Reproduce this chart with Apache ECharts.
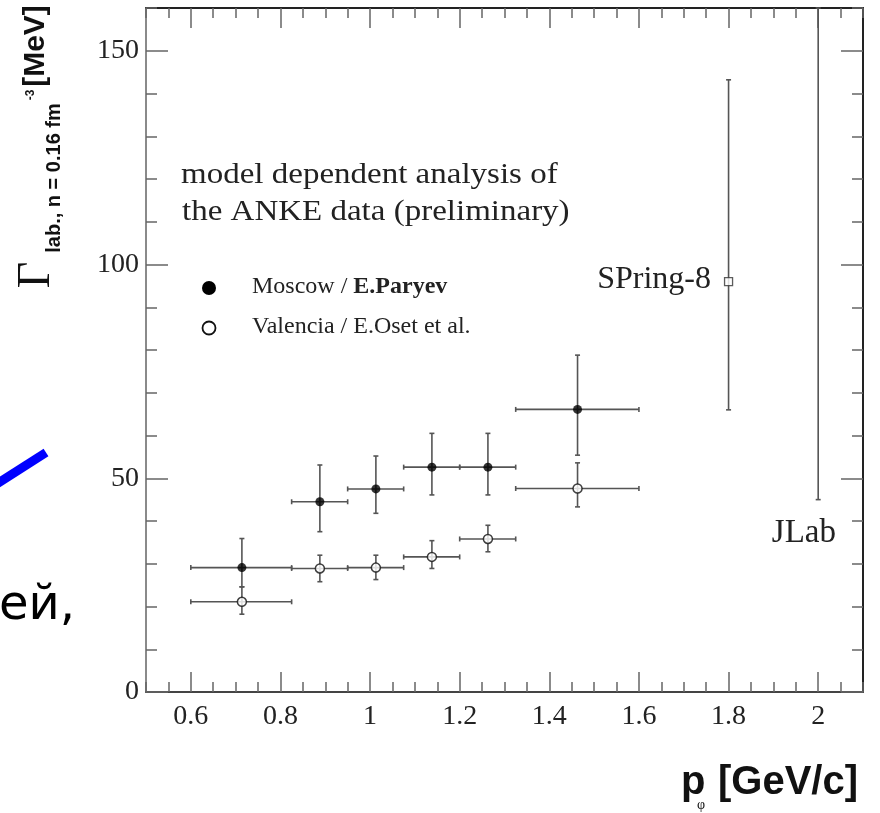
<!DOCTYPE html>
<html><head><meta charset="utf-8">
<script src="https://cdn.jsdelivr.net/npm/echarts@6/dist/echarts.min.js"></script>
<style>html,body{margin:0;padding:0;background:#fff}#c{width:880px;height:813px}</style>
</head><body><div id="c"></div>
<script>
// ---- data ----
const xMajorTicks = [0.6, 0.8, 1.0, 1.2, 1.4, 1.6, 1.8, 2.0];
const yMajorTicks = [0, 50, 100, 150];
const binLow  = [0.6, 0.825, 0.95, 1.075, 1.2, 1.325];
const binHigh = [0.825, 0.95, 1.075, 1.2, 1.325, 1.6];
const pCenter = [0.714, 0.888, 1.013, 1.138, 1.263, 1.463];
const moscow      = [29.1, 44.5, 47.5, 52.6, 52.6, 66.1];
const moscowLow   = [24.6, 37.5, 41.8, 46.1, 46.1, 55.4];
const moscowHigh  = [35.9, 53.1, 55.2, 60.5, 60.5, 78.8];
const valencia     = [21.1, 28.9, 29.1, 31.6, 35.8, 47.6];
const valenciaLow  = [18.2, 25.8, 26.3, 28.9, 32.8, 43.3];
const valenciaHigh = [24.6, 32.0, 32.0, 35.4, 39.0, 53.6];
const spring8Point = [1.8, 96.0];
const spring8Range = [66.0, 143.2];
const jlabP = 2.0;
const jlabRange = [45.0, 160];
const seriesNames = ['Moscow / E.Paryev', 'Valencia / E.Oset et al.'];

const SERIF = "'Liberation Serif','Times New Roman',serif";
const SANS = "'Liberation Sans',Arial,sans-serif";
const X_MIN = 0.5, X_MAX = 2.1, Y_MIN = 0, Y_MAX = 160;

function errRows(xs, xl, xh, ys, yl, yh) {
  return xs.map((x, i) => [x, xl[i], xh[i], ys[i], yl[i], yh[i]]);
}
const BAR = '#555';
function errRender(params, api) {
  const x = api.value(0), xl = api.value(1), xh = api.value(2);
  const y = api.value(3), yl = api.value(4), yh = api.value(5);
  const ch = [];
  const st = {stroke: BAR, lineWidth: 1.6};
  const cap = 2.5;
  if (xh > xl) {
    const l = api.coord([xl, y]), r = api.coord([xh, y]);
    ch.push({type: 'line', shape: {x1: l[0], y1: l[1], x2: r[0], y2: r[1]}, style: st});
    ch.push({type: 'line', shape: {x1: l[0], y1: l[1] - cap, x2: l[0], y2: l[1] + cap}, style: st});
    ch.push({type: 'line', shape: {x1: r[0], y1: r[1] - cap, x2: r[0], y2: r[1] + cap}, style: st});
  }
  if (yh > yl) {
    const t = api.coord([x, yh]), b = api.coord([x, yl]);
    ch.push({type: 'line', shape: {x1: t[0], y1: t[1], x2: b[0], y2: b[1]}, style: st});
    ch.push({type: 'line', shape: {x1: t[0] - cap, y1: t[1], x2: t[0] + cap, y2: t[1]}, style: st});
    ch.push({type: 'line', shape: {x1: b[0] - cap, y1: b[1], x2: b[0] + cap, y2: b[1]}, style: st});
  }
  return {type: 'group', children: ch};
}

const tickStyle = {color: '#666', width: 1.5};
function xAx(pos, major, lineColor) {
  const a = {
    type: 'value', position: pos, min: X_MIN, max: X_MAX,
    axisLine: {show: major, onZero: false, lineStyle: {color: lineColor, width: 2}},
    axisTick: {show: true, inside: true, length: major ? 20 : 10, lineStyle: tickStyle},
    axisLabel: {show: false}, splitLine: {show: false}
  };
  if (major) {
    a.axisTick.customValues = xMajorTicks;
    if (pos === 'bottom') {
      a.axisLabel = {show: true, customValues: xMajorTicks, fontFamily: SERIF, fontSize: 28,
        color: '#222', margin: 11, formatter: v => String(Math.round(v * 10) / 10)};
    }
  } else {
    a.interval = 0.05;
  }
  return a;
}
function yAx(pos, major, lineColor) {
  const a = {
    type: 'value', position: pos, min: Y_MIN, max: Y_MAX,
    axisLine: {show: major, onZero: false, lineStyle: {color: lineColor, width: 2}},
    axisTick: {show: true, inside: true, length: major ? 22 : 11, lineStyle: tickStyle},
    axisLabel: {show: false}, splitLine: {show: false}
  };
  if (major) {
    a.axisTick.customValues = yMajorTicks;
    if (pos === 'left') {
      a.axisLabel = {show: true, customValues: yMajorTicks, fontFamily: SERIF, fontSize: 28,
        color: '#222', margin: 7};
    }
  } else {
    a.interval = 10;
  }
  return a;
}

const chart = echarts.init(document.getElementById('c'), null, {renderer: 'canvas'});
chart.setOption({
  animation: false,
  backgroundColor: '#fff',
  grid: {left: 146, right: 17, top: 8, bottom: 121, containLabel: false},
  xAxis: [xAx('bottom', true, '#444'), xAx('bottom', false), xAx('top', true, '#222'), xAx('top', false)],
  yAxis: [yAx('left', true, '#8a8a8a'), yAx('left', false), yAx('right', true, '#222'), yAx('right', false)],
  series: [
    {type: 'custom', name: seriesNames[0] + ' err', renderItem: errRender, encode: {x: [0, 1, 2], y: [3, 4, 5]},
     data: errRows(pCenter, binLow, binHigh, moscow, moscowLow, moscowHigh), z: 2},
    {type: 'custom', name: seriesNames[1] + ' err', renderItem: errRender, encode: {x: [0, 1, 2], y: [3, 4, 5]},
     data: errRows(pCenter, binLow, binHigh, valencia, valenciaLow, valenciaHigh), z: 2},
    {type: 'custom', name: 'SPring-8 err', renderItem: errRender, encode: {x: [0, 1, 2], y: [3, 4, 5]},
     data: [[spring8Point[0], spring8Point[0], spring8Point[0], spring8Point[1], spring8Range[0], spring8Range[1]]], z: 2},
    {type: 'custom', name: 'JLab', renderItem: errRender, encode: {x: [0, 1, 2], y: [3, 4, 5]},
     data: [[jlabP, jlabP, jlabP, (jlabRange[0] + jlabRange[1]) / 2, jlabRange[0], jlabRange[1]]], z: 2},
    {type: 'scatter', name: seriesNames[0], symbol: 'circle', symbolSize: 9,
     itemStyle: {color: '#000'}, data: pCenter.map((p, i) => [p, moscow[i]]), z: 5},
    {type: 'scatter', name: seriesNames[1], symbol: 'circle', symbolSize: 9,
     itemStyle: {color: '#fff', borderColor: '#111', borderWidth: 1.5}, data: pCenter.map((p, i) => [p, valencia[i]]), z: 5},
    {type: 'scatter', name: 'SPring-8', symbol: 'rect', symbolSize: 8,
     itemStyle: {color: '#fff', borderColor: '#333', borderWidth: 1.3}, data: [spring8Point], z: 5}
  ],
  graphic: [
    // y axis title (rotated)
    {type: 'text', x: 36, y: 46, rotation: Math.PI / 2, style: {text: '[MeV]', fontFamily: SANS, fontWeight: 'bold', fontSize: 30, fill: '#111', align: 'center', verticalAlign: 'middle'}},
    {type: 'text', x: 31, y: 95, rotation: Math.PI / 2, style: {text: '-3', fontFamily: SANS, fontWeight: 'bold', fontSize: 12, fill: '#111', align: 'center', verticalAlign: 'middle'}},
    {type: 'text', x: 54, y: 178, rotation: Math.PI / 2, style: {text: 'lab., n = 0.16 fm', fontFamily: SANS, fontWeight: 'bold', fontSize: 20, fill: '#111', align: 'center', verticalAlign: 'middle'}},
    {type: 'text', x: 37, y: 275, rotation: Math.PI / 2, style: {text: 'Γ', fontFamily: SERIF, fontSize: 46, fill: '#111', align: 'center', verticalAlign: 'middle'}},
    // x axis title
    {type: 'text', x: 681, y: 783, style: {text: 'p', fontFamily: SANS, fontWeight: 'bold', fontSize: 40, fill: '#111', align: 'left', verticalAlign: 'middle'}},
    {type: 'text', x: 701, y: 805, style: {text: 'φ', fontFamily: SERIF, fontSize: 14, fill: '#111', align: 'center', verticalAlign: 'middle'}},
    {type: 'text', x: 858, y: 783, style: {text: '[GeV/c]', fontFamily: SANS, fontWeight: 'bold', fontSize: 40, fill: '#111', align: 'right', verticalAlign: 'middle'}},
    // annotation
    {type: 'text', x: 181, y: 175, scaleX: 1.1, style: {text: 'model dependent analysis of', fontFamily: SERIF, fontSize: 30, fill: '#222', align: 'left', verticalAlign: 'middle'}},
    {type: 'text', x: 182, y: 212, scaleX: 1.1, style: {text: 'the ANKE data (preliminary)', fontFamily: SERIF, fontSize: 30, fill: '#222', align: 'left', verticalAlign: 'middle'}},
    // legend
    {type: 'circle', shape: {cx: 209, cy: 288, r: 7}, style: {fill: '#000'}},
    {type: 'circle', shape: {cx: 209, cy: 328, r: 6.5}, style: {fill: '#fff', stroke: '#111', lineWidth: 1.8}},
    {type: 'text', x: 252, y: 287, style: {text: '{a|Moscow / }{b|E.Paryev}', rich: {a: {fontFamily: SERIF, fontSize: 24, fill: '#222'}, b: {fontFamily: SERIF, fontSize: 24, fontWeight: 'bold', fill: '#222'}}, align: 'left', verticalAlign: 'middle'}},
    {type: 'text', x: 252, y: 327, style: {text: seriesNames[1], fontFamily: SERIF, fontSize: 24, fill: '#222', align: 'left', verticalAlign: 'middle'}},
    // point labels
    {type: 'text', x: 711, y: 280, style: {text: 'SPring-8', fontFamily: SERIF, fontSize: 32, fill: '#222', align: 'right', verticalAlign: 'middle'}},
    {type: 'text', x: 836, y: 533, style: {text: 'JLab', fontFamily: SERIF, fontSize: 33, fill: '#222', align: 'right', verticalAlign: 'middle'}},
    // slide fragments outside the plot
    {type: 'line', shape: {x1: -12, y1: 489.5, x2: 46, y2: 452.5}, style: {stroke: '#0000ff', lineWidth: 9, lineCap: 'butt'}},
    {type: 'text', x: -1, y: 607, style: {text: 'ей,', fontFamily: "'DejaVu Sans',sans-serif", fontSize: 48, fill: '#000', align: 'left', verticalAlign: 'middle'}}
  ]
});
</script></body></html>
